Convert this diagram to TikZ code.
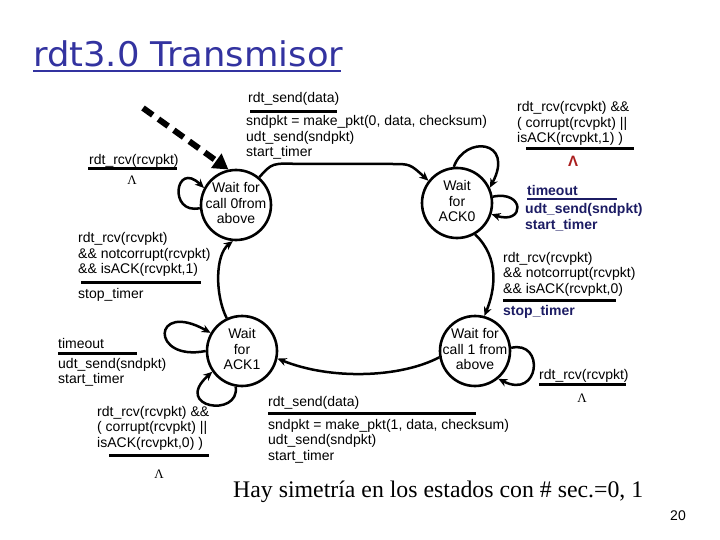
\documentclass[tikz,border=0pt]{standalone}
\usepackage{fontspec}
\setmainfont{Liberation Sans}
\newfontfamily\titlefont[FakeStretch=1.04]{DejaVu Sans}
\newfontfamily\timesfont{Liberation Serif}
\usetikzlibrary{arrows.meta}
\definecolor{titleblue}{RGB}{51,51,160}
\definecolor{navy}{RGB}{28,28,100}
\definecolor{lamred}{RGB}{170,30,30}
\newcommand{\blockt}[1]{\begin{tabular}[t]{@{}l@{}}#1\end{tabular}}
\newcommand{\blockc}[1]{\makebox[0pt]{\begin{tabular}{@{}c@{}}#1\end{tabular}}}
\begin{document}
\begin{tikzpicture}[x=1pt,y=-1pt,
  state/.style={circle, draw, line width=2.6pt, minimum size=70pt, inner sep=0pt, font=\fontsize{14}{15.5}\selectfont},
  lbl/.style={anchor=base west, inner sep=0pt, font=\fontsize{14}{15.5}\selectfont},
  blbl/.style={anchor=base west, inner sep=0pt, font=\fontsize{14}{15.5}\selectfont\bfseries, text=navy},
  lam/.style={anchor=base, inner sep=0pt, font=\timesfont\fontsize{13}{15}\selectfont},
  bar/.style={line width=3pt},
  tr/.style={line width=2.5pt, -{Stealth[length=9pt,width=8pt]}},
]
\useasboundingbox (0,0) rectangle (720,540);

% title
\node[anchor=base west, inner sep=0pt, text=titleblue, font=\titlefont\fontsize{34}{40}\selectfont] (title) at (33,67) {rdt3.0 Transmisor};
\draw[titleblue, line width=2pt] (33,71) -- (341,71);

% states
\node[state] (W0) at (236,205) {\blockc{Wait for\\call 0from\\above}};
\node[state] (A0) at (457,203) {\blockc{Wait\\for\\ACK0}};
\node[state] (A1) at (242,351) {\blockc{Wait\\for\\ACK1}};
\node[state] (W1) at (475,351) {\blockc{Wait for\\call 1 from\\above}};

% initial dashed arrow
\coordinate (ds) at (143,108);
\draw[line width=6pt, dash pattern=on 12pt off 7pt, -{Triangle[length=15pt,width=17pt]}] (ds) -- (W0.102);

% transitions
\draw[tr] (W0.50) .. controls (272,163) .. (300,164) -- (392,164) .. controls (410,164) .. (A0.142);
\draw[tr] (A0.-60) .. controls (500,258) and (495,290) .. (W1.75);
\draw[tr] (W1.190) .. controls (400,378) and (330,380) .. (A1.-12);
\draw[tr] (A1.115) .. controls (215,295) and (215,255) .. (W0.-95);

% self loops
\draw[tr] (W0.185) .. controls (168,215) and (175,160) .. (W0.152);
\draw[tr] (A0.95) .. controls (465,135) and (515,140) .. (A0.25);
\draw[tr] (A0.10) .. controls (525,190) and (525,225) .. (A0.-18);
\draw[tr] (A1.180) .. controls (150,362) and (152,300) .. (A1.150);
\draw[tr] (A1.-100) .. controls (240,418) and (172,408) .. (A1.-145);
\draw[tr] (W1.5) .. controls (545,340) and (540,400) .. (W1.-50);

% top label
\node[lbl] (t1) at (248,103) {rdt\_send(data)};
\draw[bar] (250,112) -- (337,112);
\node[lbl] (t2) at (246,126) {\blockt{sndpkt = make\_pkt(0, data, checksum)\\udt\_send(sndpkt)\\start\_timer}};

% left W0 loop label
\node[lbl] (l1) at (89,165) {rdt\_rcv(rcvpkt)};
\draw[bar] (88,169) -- (177,169);
\node[lam] (l1lam) at (132,185) {Λ};

% right top labels
\node[lbl] (r1) at (517,112) {\blockt{rdt\_rcv(rcvpkt) \&\&\\( corrupt(rcvpkt) ||\\isACK(rcvpkt,1) )}};
\draw[bar] (526,149) -- (634,149);
\node[anchor=base, inner sep=0pt, text=lamred, font=\bfseries\fontsize{15}{17}\selectfont] (r1lam) at (573,167) {Λ};

\node[blbl] (to1) at (527,196) {timeout};
\draw[navy, line width=2.5pt] (527,199) -- (617,199);
\node[blbl] (to1b) at (525,214) {\blockt{udt\_send(sndpkt)\\start\_timer}};

% right middle
\node[lbl] (r2) at (503,262) {\blockt{rdt\_rcv(rcvpkt)\\\&\& notcorrupt(rcvpkt)\\\&\& isACK(rcvpkt,0)}};
\draw[bar] (503,300) -- (616,300);
\node[blbl] (r2b) at (503,315) {stop\_timer};

% right bottom
\node[lbl] (r3) at (539,379) {rdt\_rcv(rcvpkt)};
\draw[bar] (539,384) -- (626,384);
\node[lam] (r3lam) at (582,402) {Λ};

% left middle
\node[lbl] (l2) at (78,243) {\blockt{rdt\_rcv(rcvpkt)\\\&\& notcorrupt(rcvpkt)\\\&\& isACK(rcvpkt,1)}};
\draw[bar] (81,282) -- (201,282);
\node[lbl] (l2b) at (78,298) {stop\_timer};

% left bottom
\node[lbl] (l3) at (58,348) {timeout};
\draw[bar] (58,353) -- (137,353);
\node[lbl] (l3b) at (58,368) {\blockt{udt\_send(sndpkt)\\start\_timer}};

% left lower
\node[lbl] (l4) at (97,416) {\blockt{rdt\_rcv(rcvpkt) \&\&\\( corrupt(rcvpkt) ||\\isACK(rcvpkt,0) )}};
\draw[bar] (109,455) -- (209,455);
\node[lam] (l4lam) at (159,478) {Λ};

% bottom
\node[lbl] (b1) at (268,406) {rdt\_send(data)};
\draw[bar] (268,413) -- (476,413);
\node[lbl] (b2) at (268,429) {\blockt{sndpkt = make\_pkt(1, data, checksum)\\udt\_send(sndpkt)\\start\_timer}};

\node[anchor=base west, inner sep=0pt, font=\timesfont\fontsize{23.8}{26}\selectfont] (note) at (233,497) {Hay simetría en los estados con \# sec.=0, 1};
\node[anchor=base, inner sep=0pt, font=\fontsize{14}{16}\selectfont] (pg) at (678,520) {20};
\end{tikzpicture}
\end{document}
